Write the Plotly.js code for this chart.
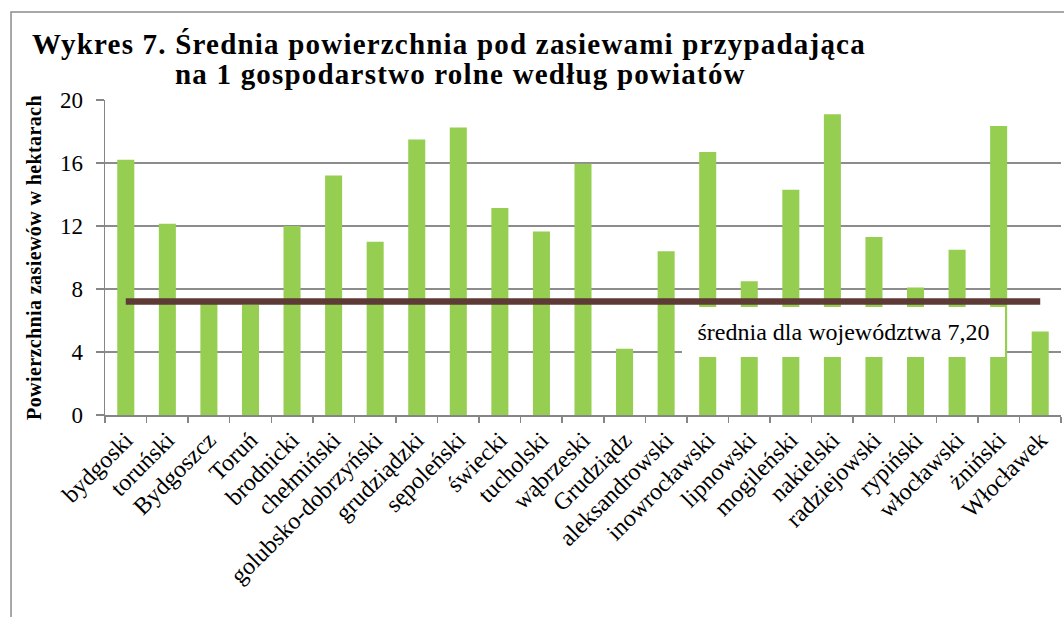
<!DOCTYPE html>
<html>
<head>
<meta charset="utf-8">
<script src="https://cdn.plot.ly/plotly-3.0.1.min.js"></script>
<style>
html,body{margin:0;padding:0;background:#fff;}
#chart{width:1064px;height:617px;}
#chart .gtitle{letter-spacing:1.2px;}
#chart .annotation[data-index="1"] text{letter-spacing:1.2px;}
#chart .g-ytitle text{letter-spacing:0.4px;}
</style>
</head>
<body>
<div id="chart"></div>
<script>
const categories = ["bydgoski","toruński","Bydgoszcz","Toruń","brodnicki","chełmiński","golubsko-dobrzyński","grudziądzki","sępoleński","świecki","tucholski","wąbrzeski","Grudziądz","aleksandrowski","inowrocławski","lipnowski","mogileński","nakielski","radziejowski","rypiński","włocławski","żniński","Włocławek"];
const areaValues = [16.2,12.15,7.1,7.0,12.0,15.2,11.0,17.5,18.25,13.15,11.65,15.95,4.2,10.4,16.7,8.5,14.3,19.1,11.3,8.1,10.5,18.35,5.3];
const voivodeshipAverage = 7.20;
const averageLabel = "średnia dla województwa 7,20";
const titleLine1 = "Wykres 7. Średnia powierzchnia pod zasiewami przypadająca";
const titleLine2 = "na 1 gospodarstwo rolne według powiatów";
const yAxisTitle = "Powierzchnia zasiewów w hektarach";
const yTicks = [0,4,8,12,16,20];

const FONT = "Liberation Serif, Times New Roman, serif";

const traces = [
  {
    type: "bar",
    x: categories,
    y: areaValues,
    marker: {color: "#96CE51"},
    hoverinfo: "x+y"
  },
  {
    type: "scatter",
    mode: "lines",
    x: [categories[0], categories[categories.length - 1]],
    y: [voivodeshipAverage, voivodeshipAverage],
    line: {color: "#5E3A36", width: 6.5},
    hoverinfo: "y"
  }
];

const layout = {
  width: 1064,
  height: 617,
  margin: {l: 105, r: 3, t: 100, b: 202},
  paper_bgcolor: "#fff",
  plot_bgcolor: "#fff",
  showlegend: false,
  bargap: 0.59,
  font: {family: FONT, color: "#000"},
  title: {
    text: titleLine1,
    font: {family: FONT, size: 29, color: "#000", weight: "bold"},
    xref: "container", x: 0.030, xanchor: "left",
    yref: "container", y: 0.946, yanchor: "top"
  },
  xaxis: {
    type: "category",
    tickangle: -45,
    tickfont: {family: FONT, size: 24, color: "#000"},
    showline: true, linecolor: "#868686", linewidth: 1.5,
    ticks: "outside", ticklen: 6, tickcolor: "#868686", tickwidth: 1.5,
    tickson: "boundaries",
    showgrid: false,
    fixedrange: true
  },
  yaxis: {
    range: [0, 20],
    tickvals: yTicks,
    ticktext: yTicks.map(String),
    tickfont: {family: FONT, size: 23, color: "#000"},
    showline: true, linecolor: "#868686", linewidth: 1.5,
    ticks: "outside", ticklen: 8, tickcolor: "#868686", tickwidth: 1.5,
    showgrid: true, gridcolor: "#8C8C8C", gridwidth: 1.3,
    zeroline: false,
    ticklabelstandoff: 8,
    title: {
      text: yAxisTitle,
      font: {family: FONT, size: 20, color: "#000", weight: "bold"},
      standoff: 13
    },
    fixedrange: true
  },
  shapes: [
    {
      type: "rect", xref: "paper", yref: "paper",
      x0: -0.0983, x1: 1.01, y0: -0.7, y1: 1.279,
      line: {color: "#8C8C8C", width: 1.5},
      fillcolor: "rgba(0,0,0,0)",
      layer: "below"
    }
  ],
  annotations: [
    {
      text: averageLabel,
      xref: "paper", yref: "paper",
      x: 0.7725, y: 0.2635,
      xanchor: "center", yanchor: "middle",
      showarrow: false,
      font: {family: FONT, size: 24, color: "#000"},
      bgcolor: "#fff",
      width: 313, height: 40, borderpad: 5,
      borderwidth: 0
    },
    {
      text: titleLine2,
      xref: "paper", yref: "paper",
      x: 0.0711, y: 1.0813,
      xanchor: "left", yanchor: "middle", align: "left",
      showarrow: false,
      font: {family: FONT, size: 29, color: "#000", weight: "bold"}
    }
  ]
};

Plotly.newPlot("chart", traces, layout, {displayModeBar: false, staticPlot: true});
</script>
</body>
</html>
